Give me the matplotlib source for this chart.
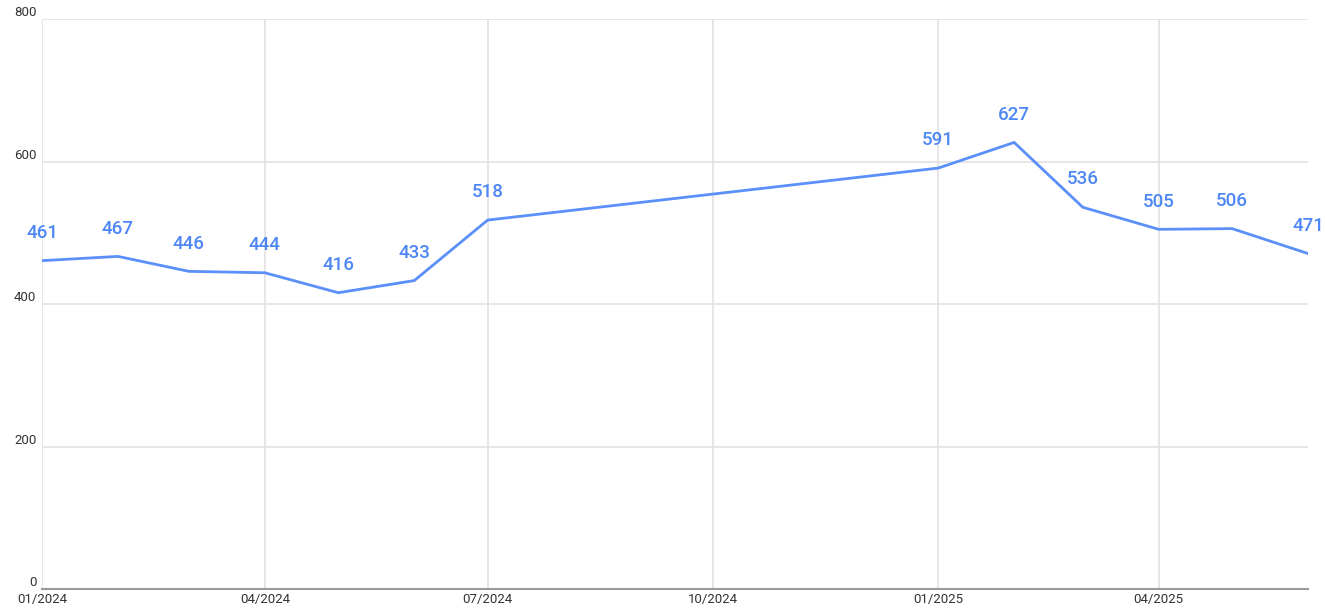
import numpy as np
import pandas as pd
import matplotlib
matplotlib.use("Agg")
from matplotlib import pyplot as plt
import matplotlib.dates as mdates

# monthly values
months = ["2024-01", "2024-02", "2024-03", "2024-04", "2024-05", "2024-06", "2024-07",
          "2025-01", "2025-02", "2025-03", "2025-04", "2025-05", "2025-06"]
values = [461, 467, 446, 444, 416, 433, 518, 591, 627, 536, 505, 506, 471]
y_ticks = [0, 200, 400, 600, 800]

dates = pd.to_datetime(months)
line_color = "#5b8ff9"
label_color = "#4d86f5"

plt.rcParams["font.family"] = ["Roboto", "DejaVu Sans"]

fig = plt.figure(figsize=(13.25, 6.14), dpi=100)
ax = fig.add_axes([0.0317, 0.0407, 0.9555, 0.928])

ax.plot(dates, values, color=line_color, linewidth=2.0, solid_joinstyle="miter")
for d, v in zip(dates, values):
    ax.annotate(str(v), (d, v), xytext=(0, 20), textcoords="offset points",
                ha="center", va="center", fontsize=13.5, color=label_color,
                fontweight="medium")

ax.set_xlim(pd.Timestamp("2024-01-01"), pd.Timestamp("2025-06-01"))
ax.set_ylim(0, 800)
ax.set_yticks(y_ticks)
ax.xaxis.set_major_locator(mdates.MonthLocator(bymonth=[1, 4, 7, 10]))
ax.xaxis.set_major_formatter(mdates.DateFormatter("%m/%Y"))

ax.grid(True, color="#e2e2e2", linewidth=1.2)
ax.set_axisbelow(True)
for s in ["top", "right", "left"]:
    ax.spines[s].set_visible(False)
ax.spines["bottom"].set_color("#9a9a9a")
ax.spines["bottom"].set_linewidth(1.5)
ax.tick_params(axis="both", length=0, labelsize=9.5, colors="#333333")
ax.tick_params(axis="x", pad=3)
ax.tick_params(axis="y", pad=4)
for lbl in ax.get_yticklabels():
    lbl.set_verticalalignment("bottom")

fig.savefig("out.png", dpi=100)
